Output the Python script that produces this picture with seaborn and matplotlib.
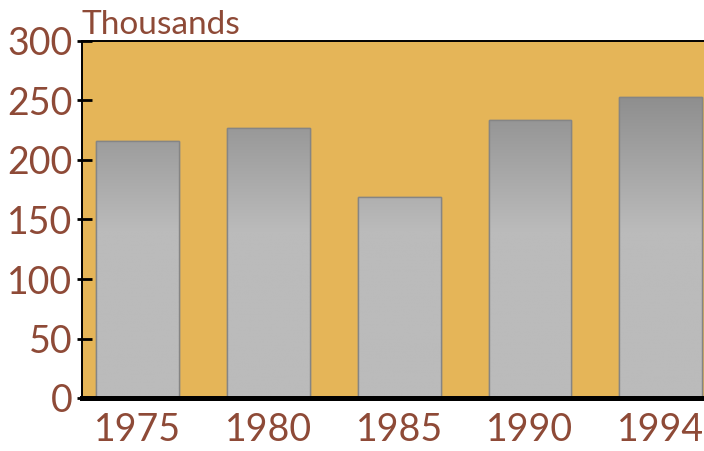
import matplotlib
matplotlib.use("Agg")
import matplotlib.pyplot as plt
import numpy as np
import pandas as pd
import seaborn as sns

years = ["1975", "1980", "1985", "1990", "1994"]
values = [216, 227, 169, 234, 253]

BG = "#E5B558"
BROWN = "#8E4A37"
EDGE = "#858585"

sns.set_theme(style="white")
plt.rcParams["font.family"] = ["Lato", "DejaVu Sans"]

df = pd.DataFrame({"year": years, "value": values})

fig = plt.figure(figsize=(7.04, 4.51), dpi=100)
ax = fig.add_axes([82 / 704, 53 / 451, 1 - 82 / 704, 357 / 451])
ax.set_facecolor(BG)

sns.barplot(data=df, x="year", y="value", color="#bbbbbb", width=0.633,
            edgecolor=EDGE, linewidth=1.0, saturation=1, ax=ax)

# vertical gray gradient inside each bar (darker toward the top, in data units)
yy = np.linspace(0, 300, 600)
g = np.clip(0x8c + (258 - yy) / (258 - 140) * (0xbb - 0x8c), 0x8c, 0xbb) / 255
img = np.repeat(g[:, None, None], 3, axis=2)
for p in ax.patches:
    x0, w = p.get_x(), p.get_width()
    im = ax.imshow(img, extent=(x0, x0 + w, 0, 300), origin="lower",
                   aspect="auto", zorder=p.get_zorder() + 0.1, interpolation="bilinear")
    im.set_clip_path(p)
    ax.add_patch(plt.Rectangle((x0, 0), w, p.get_height(), fill=False,
                               edgecolor=EDGE, lw=1.0, zorder=p.get_zorder() + 0.2))

ax.set_xlim(-0.424, 4.33)
ax.set_ylim(0, 300)
ax.set_yticks(range(0, 301, 50))
ax.set_xlabel("")
ax.set_ylabel("")

for side in ("left", "top", "bottom"):
    ax.spines[side].set_visible(True)
    ax.spines[side].set_color("black")
ax.spines["right"].set_visible(False)
ax.spines["left"].set_linewidth(1.4)
ax.spines["top"].set_linewidth(1.4)
ax.spines["bottom"].set_linewidth(3.6)
ax.spines["bottom"].set_zorder(5)

# ticks: long inside part, short outside part
ax.yaxis.remove_overlapping_locs = False
ax.set_yticks(range(0, 301, 50), minor=True)
ax.tick_params(axis="y", which="major", direction="in", length=7.5, width=2,
               color="black", labelsize=27, labelcolor=BROWN, pad=7)
ax.tick_params(axis="y", which="minor", direction="out", length=3.6, width=2,
               color="black")
ax.tick_params(axis="x", length=0, labelsize=27, labelcolor=BROWN, pad=10)
ax.tick_params(left=True, which="both")

fig.text(82 / 704, 1 - 34 / 451, "Thousands", color=BROWN, fontsize=24,
         ha="left", va="baseline")

fig.savefig("out.png", dpi=100, facecolor="white")
